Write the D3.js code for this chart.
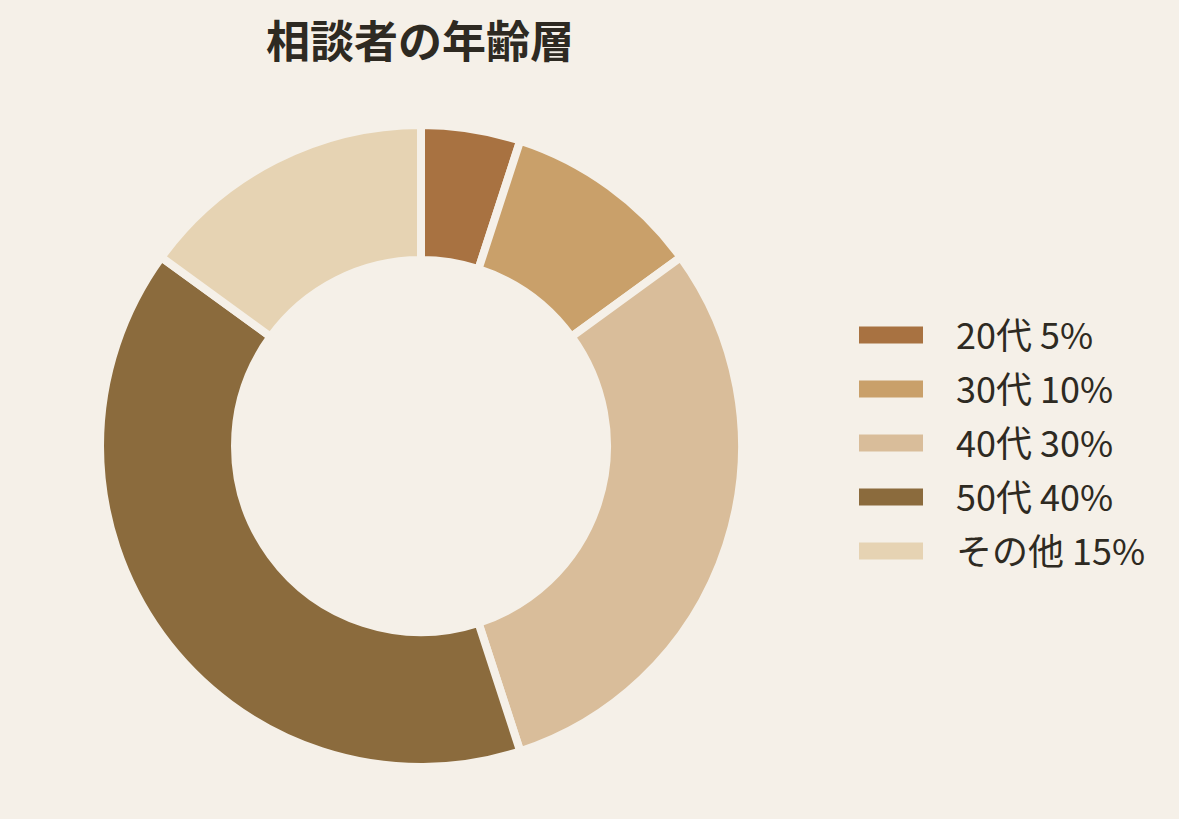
<!DOCTYPE html>
<html>
<head>
<meta charset="utf-8">
<script src="https://cdn.jsdelivr.net/npm/d3@7"></script>
<style>
  html, body { margin: 0; padding: 0; background: #f5f0e8; }
  #chart { width: 1179px; height: 819px; }
</style>
</head>
<body>
<div id="chart"></div>
<script>
/* Donut of consultation requests by age group. */

var categories = ["20代", "30代", "40代", "50代", "その他"];
var shares = [5, 10, 30, 40, 15];
var sliceColors = ["#a87241", "#c9a06a", "#d9bd9a", "#8b6b3d", "#e6d3b3"];
var title = "相談者の年齢層";

var width = 1179, height = 819;
var bg = "#f5f0e8", ink = "#2e2a22";
var font = "'Noto Sans CJK JP', 'Noto Sans', sans-serif";

var svg = d3.select("#chart").append("svg")
  .attr("width", width).attr("height", height)
  .attr("viewBox", "0 0 " + width + " " + height);

svg.append("rect").attr("width", width).attr("height", height).attr("fill", bg);

svg.append("text")
  .attr("x", 420).attr("y", 58)
  .attr("text-anchor", "middle")
  .attr("font-family", font)
  .attr("font-size", 44)
  .attr("font-weight", 700)
  .attr("fill", ink)
  .text(title);

var data = categories.map(function (c, i) { return { name: c, value: shares[i], color: sliceColors[i] }; });

var pie = d3.pie().sort(null).value(function (d) { return d.value; });
var arc = d3.arc().innerRadius(186).outerRadius(321);

var g = svg.append("g").attr("transform", "translate(421,446)");
g.selectAll("path").data(pie(data)).enter().append("path")
  .attr("d", arc)
  .attr("fill", function (d) { return d.data.color; })
  .attr("stroke", bg)
  .attr("stroke-width", 8)
  .attr("stroke-linejoin", "miter");

var y = d3.scaleBand().domain(categories).range([308, 578]);

var legend = svg.append("g");
var rows = legend.selectAll("g").data(data).enter().append("g")
  .attr("transform", function (d) { return "translate(0," + (y(d.name) + y.bandwidth() / 2) + ")"; });

rows.append("rect")
  .attr("x", 859).attr("y", -8.5)
  .attr("width", 64).attr("height", 17)
  .attr("fill", function (d) { return d.color; });

rows.append("text")
  .attr("x", 956).attr("y", 1)
  .attr("dy", "0.36em")
  .attr("font-family", font)
  .attr("font-size", 36)
  .attr("fill", ink)
  .text(function (d) { return d.name + " " + d.value + "%"; });
</script>
</body>
</html>
